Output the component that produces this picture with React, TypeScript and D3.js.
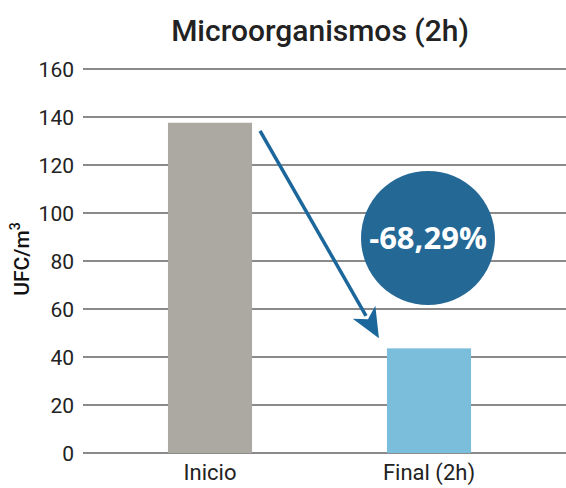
import React, { useEffect, useRef } from 'react';
import * as d3 from 'd3';

const categories = ['Inicio', 'Final (2h)'];
const values = [137.6, 43.6];
const barColors = ['#aca8a2', '#7bbedb'];
const yTicks = [0, 20, 40, 60, 80, 100, 120, 140, 160];
const changeLabel = '-68,29%';

const App = () => {
  const ref = useRef<SVGSVGElement>(null);

  useEffect(() => {
    const svg = d3.select(ref.current);
    svg.selectAll('*').remove();
    const width = 566;

    const x = d3.scaleBand()
      .domain(categories)
      .range([100.5, 538.5])
      .paddingInner(0.616)
      .paddingOuter(0.308);

    const y = d3.scaleLinear().domain([0, 160]).range([453, 69]);

    svg.append('text')
      .attr('x', 320)
      .attr('y', 41)
      .attr('text-anchor', 'middle')
      .attr('font-family', 'Roboto')
      .attr('font-weight', 500)
      .attr('font-size', 30)
      .attr('fill', '#222')
      .text('Microorganismos (2h)');

    // grid
    const grid = svg.append('g');
    grid.selectAll('line')
      .data(yTicks)
      .enter()
      .append('line')
      .attr('x1', 83)
      .attr('x2', width)
      .attr('y1', d => y(d))
      .attr('y2', d => y(d))
      .attr('stroke', '#8a8a8a')
      .attr('stroke-width', 2);

    grid.selectAll('text')
      .data(yTicks)
      .enter()
      .append('text')
      .attr('x', 74)
      .attr('y', d => y(d))
      .attr('dy', '0.36em')
      .attr('text-anchor', 'end')
      .attr('font-family', 'Roboto')
      .attr('font-size', 21)
      .attr('fill', '#222')
      .text(d => d);

    svg.append('text')
      .attr('transform', 'translate(29, 259) rotate(-90)')
      .attr('text-anchor', 'middle')
      .attr('font-family', 'Roboto')
      .attr('font-weight', 500)
      .attr('font-size', 21)
      .attr('fill', '#111')
      .html('UFC/m<tspan dy="-9" font-size="14">3</tspan>');

    svg.append('g')
      .selectAll('rect')
      .data(values)
      .enter()
      .append('rect')
      .attr('x', (d, i) => x(categories[i]))
      .attr('y', d => y(d))
      .attr('width', x.bandwidth())
      .attr('height', d => y(0) - y(d))
      .attr('fill', (d, i) => barColors[i]);

    svg.append('g')
      .selectAll('text')
      .data(categories)
      .enter()
      .append('text')
      .attr('x', d => x(d) + x.bandwidth() / 2)
      .attr('y', 480)
      .attr('text-anchor', 'middle')
      .attr('font-family', 'Roboto')
      .attr('font-size', 22)
      .attr('fill', '#222')
      .text(d => d);

    // arrow from first bar top to second bar
    const x0 = x(categories[0]) + x.bandwidth() + 8;
    const y0 = y(values[0]) + 8;
    const x1 = x(categories[1]) - 8;
    const y1 = y(values[1]) - 10;
    const ang = Math.atan2(y1 - y0, x1 - x0);
    const headLen = 30;
    const headW = 13;
    const bx = x1 - headLen * Math.cos(ang);
    const by = y1 - headLen * Math.sin(ang);
    svg.append('line')
      .attr('x1', x0)
      .attr('y1', y0)
      .attr('x2', bx + 4 * Math.cos(ang))
      .attr('y2', by + 4 * Math.sin(ang))
      .attr('stroke', '#1b679b')
      .attr('stroke-width', 3.5);
    const px = -Math.sin(ang);
    const py = Math.cos(ang);
    svg.append('path')
      .attr('d', `M${x1},${y1}L${bx + px * headW},${by + py * headW}L${bx + 8 * Math.cos(ang)},${by + 8 * Math.sin(ang)}L${bx - px * headW},${by - py * headW}Z`)
      .attr('fill', '#1b679b');

    svg.append('circle')
      .attr('cx', 428)
      .attr('cy', 238)
      .attr('r', 67)
      .attr('fill', '#246896');

    svg.append('text')
      .attr('x', 428)
      .attr('y', 238)
      .attr('dy', '0.36em')
      .attr('text-anchor', 'middle')
      .attr('font-family', 'Open Sans')
      .attr('font-weight', 700)
      .attr('font-size', 31)
      .attr('fill', '#fff')
      .text(changeLabel);
  }, []);

  return (
    <svg ref={ref} width={566} height={488} style={{ position: 'absolute', left: 0, top: 0, background: '#fff' }}></svg>
  );
};

export default App;
